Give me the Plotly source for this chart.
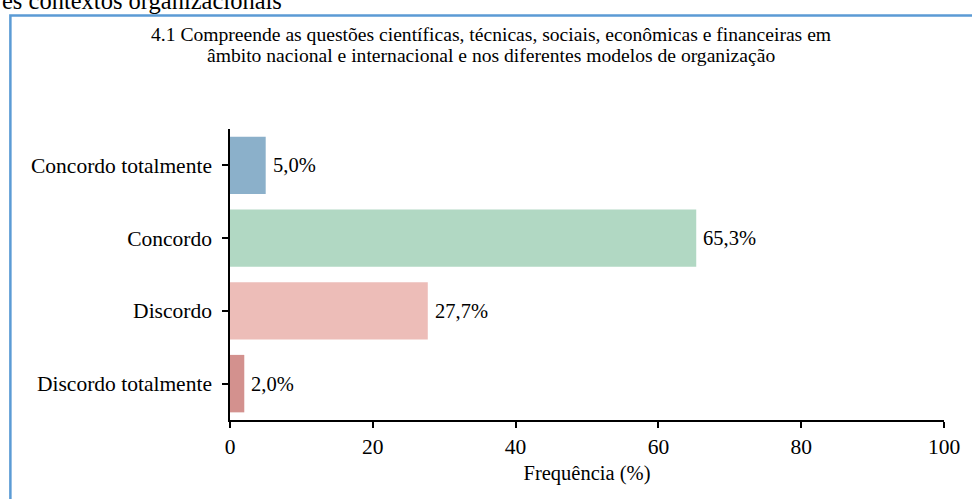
import plotly.graph_objects as go

categories = ["Concordo totalmente", "Concordo", "Discordo", "Discordo totalmente"]
values = [5.0, 65.3, 27.7, 2.0]
labels = ["5,0%", "65,3%", "27,7%", "2,0%"]
colors = ["#8BB0CA", "#B1D8C3", "#EDBDB8", "#D3918E"]
x_ticks = [0, 20, 40, 60, 80, 100]
title_lines = [
    "4.1 Compreende as questões científicas, técnicas, sociais, econômicas e financeiras em",
    "âmbito nacional e internacional e nos diferentes modelos de organização",
]
header_text = "es contextos organizacionais"

FONT = "Liberation Serif"

W, H = 972, 499
L, R, T, B = 229.5, 24, 129, 79
pw = W - L - R
ph = H - T - B

def px(x):
    return (x - L) / pw

def py(y):
    return (H - B - y) / ph

fig = go.Figure(go.Bar(
    x=values, y=categories, orientation="h",
    marker=dict(color=colors, line=dict(width=0)),
    hoverinfo="x+y",
))

annotations = []
for v, c, t in zip(values, categories, labels):
    annotations.append(dict(
        x=v, y=c, xref="x", yref="y", text=t, showarrow=False,
        xanchor="left", yanchor="middle", xshift=5,
        font=dict(family=FONT, size=20.5, color="black"),
    ))

annotations.append(dict(text=title_lines[0], xref="paper", yref="paper",
                        x=px(492), y=py(34), xanchor="center", yanchor="middle",
                        showarrow=False, font=dict(family=FONT, size=19.6, color="black")))
annotations.append(dict(text=title_lines[1], xref="paper", yref="paper",
                        x=px(492), y=py(55.5), xanchor="center", yanchor="middle",
                        showarrow=False, font=dict(family=FONT, size=19.6, color="black")))
annotations.append(dict(text=header_text, xref="paper", yref="paper",
                        x=px(-2), y=py(0), xanchor="left", yanchor="middle",
                        showarrow=False, font=dict(family=FONT, size=24.5, color="black")))

fig.update_layout(
    width=W, height=H,
    margin=dict(l=L, r=R, t=T, b=B),
    paper_bgcolor="white", plot_bgcolor="white",
    font=dict(family=FONT, size=21, color="black"),
    bargap=0.21,
    showlegend=False,
    xaxis=dict(
        range=[0, 100], tickvals=x_ticks, showgrid=False, zeroline=False,
        showline=True, linecolor="black", linewidth=1.5,
        ticks="outside", ticklen=6, tickwidth=1.5, tickcolor="black",
        title=dict(text="Frequência (%)", font=dict(family=FONT, size=20.5), standoff=8),
        tickfont=dict(family=FONT, size=21.5),
    ),
    yaxis=dict(
        categoryorder="array", categoryarray=categories[::-1],
        range=[-0.5, 3.5], showgrid=False, zeroline=False,
        showline=True, linecolor="black", linewidth=1.5,
        ticks="outside", ticklen=6, tickwidth=1.5, tickcolor="black",
        tickfont=dict(family=FONT, size=21.5),
        ticklabelstandoff=6,
    ),
    shapes=[
        dict(type="rect", xref="paper", yref="paper",
             x0=px(8.5), x1=px(990), y0=py(15.5), y1=py(520),
             line=dict(color="#5B9BD5", width=2.5), fillcolor="rgba(0,0,0,0)", layer="below"),
    ],
    annotations=annotations,
)

fig.write_html("out.html", config={"displayModeBar": False},
               post_script="document.body.style.margin='0';document.body.style.overflow='hidden';")
